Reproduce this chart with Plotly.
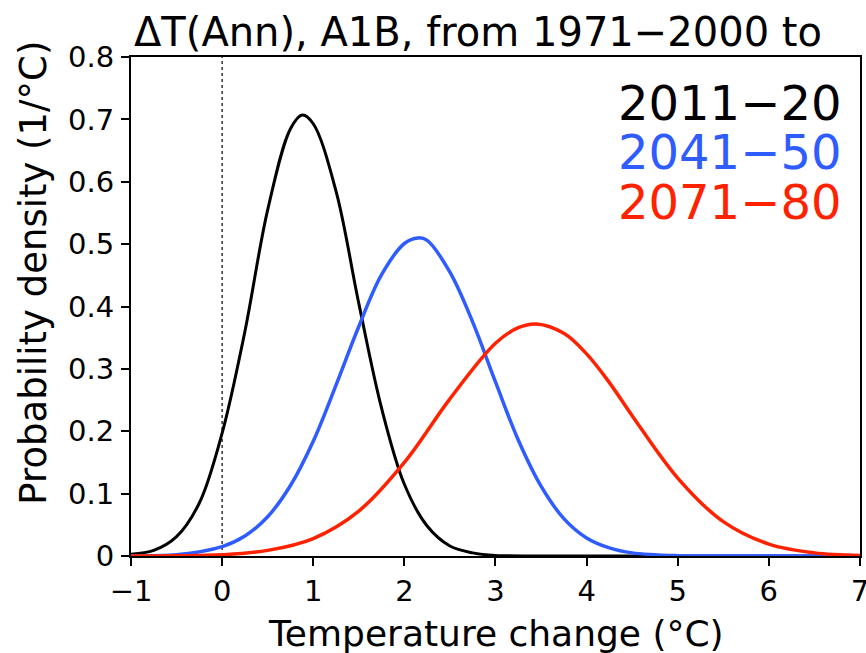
import plotly.graph_objects as go

# values (temperature change in degC, density in 1/degC)
x_2011 = [-1, -0.75, -0.5, -0.25, 0, 0.25, 0.5, 0.75, 0.88, 1.0, 1.25, 1.5, 1.75, 2.0, 2.25, 2.5, 2.75, 3.0, 4, 5, 6, 7]
y_2011 = [0.003, 0.009, 0.031, 0.085, 0.197, 0.36, 0.555, 0.685, 0.707, 0.693, 0.585, 0.405, 0.237, 0.115, 0.048, 0.016, 0.005, 0.001, 0, 0, 0, 0]

x_2041 = [-1, -0.5, 0, 0.25, 0.5, 0.75, 1.0, 1.25, 1.5, 1.75, 2.0, 2.15, 2.25, 2.5, 2.75, 3.0, 3.25, 3.5, 3.75, 4.0, 4.25, 4.5, 5, 6, 7]
y_2041 = [0.0003, 0.002, 0.015, 0.032, 0.063, 0.113, 0.184, 0.274, 0.368, 0.451, 0.501, 0.51, 0.506, 0.455, 0.375, 0.279, 0.186, 0.112, 0.06, 0.029, 0.013, 0.005, 0.0006, 0, 0]

x_2071 = [-1, -0.5, 0, 0.5, 1.0, 1.5, 2.0, 2.5, 3.0, 3.25, 3.45, 3.75, 4.0, 4.25, 4.5, 5.0, 5.5, 6.0, 6.5, 7]
y_2071 = [0.0001, 0.0004, 0.002, 0.009, 0.028, 0.072, 0.15, 0.252, 0.341, 0.366, 0.372, 0.357, 0.324, 0.278, 0.225, 0.125, 0.055, 0.019, 0.005, 0.001]

periods = ['2011\u221220', '2041\u221250', '2071\u221280']
colors = ['#000000', '#2f5cff', '#ff2200']
FONT = 'DejaVu Sans'

fig = go.Figure()
for xs, ys, c, w in [(x_2011, y_2011, colors[0], 3), (x_2041, y_2041, colors[1], 3.5), (x_2071, y_2071, colors[2], 3.5)]:
    fig.add_trace(go.Scatter(x=xs, y=ys, mode='lines', showlegend=False,
                             line=dict(color=c, width=w, shape='spline', smoothing=1)))

# dotted line at zero change
fig.add_shape(type='line', x0=0, x1=0, y0=0, y1=0.8, xref='x', yref='y',
              line=dict(color='#000000', width=1.2, dash='dot'), layer='below')

# coloured period labels
for i, (p, c) in enumerate(zip(periods, colors)):
    fig.add_annotation(text=p, x=0.977, y=0.908 - i*0.099, xref='paper', yref='paper',
                       xanchor='right', yanchor='middle', showarrow=False,
                       font=dict(family=FONT, size=48, color=c))

fig.add_annotation(text='\u0394T(Ann), A1B, from 1971\u22122000 to', x=0.002, y=1.05,
                   xref='paper', yref='paper', xanchor='left', yanchor='middle', showarrow=False,
                   font=dict(family=FONT, size=40, color='black'))
fig.add_annotation(text='Temperature change (\u00b0C)', x=0.5, y=-0.155,
                   xref='paper', yref='paper', xanchor='center', yanchor='middle', showarrow=False,
                   font=dict(family=FONT, size=36, color='black'))
fig.add_annotation(text='Probability density (1/\u00b0C)', x=-0.135, y=0.567, textangle=-90,
                   xref='paper', yref='paper', xanchor='center', yanchor='middle', showarrow=False,
                   font=dict(family=FONT, size=37, color='black'))

axis_style = dict(showline=True, linecolor='black', linewidth=2, mirror=True, showgrid=False,
                  zeroline=False, ticks='outside', ticklen=8, tickwidth=1.5, tickcolor='black',
                  automargin=False, tickfont=dict(family=FONT, size=29, color='black'))
fig.update_xaxes(range=[-1, 7.0005], dtick=1, tick0=-1, ticklabelstandoff=0,
                 ticklabeloverflow='allow', **axis_style)
fig.update_yaxes(range=[0, 0.8], dtick=0.1, tick0=0, ticklabelstandoff=1, **axis_style)

fig.update_layout(width=866, height=653, margin=dict(l=131, r=6, t=57, b=97),
                  plot_bgcolor='white', paper_bgcolor='white')

# the page's default body margin would push the figure 8px off the window
fig.write_html("out.html", config={'displayModeBar': False},
               post_script="document.body.style.margin='0';")
